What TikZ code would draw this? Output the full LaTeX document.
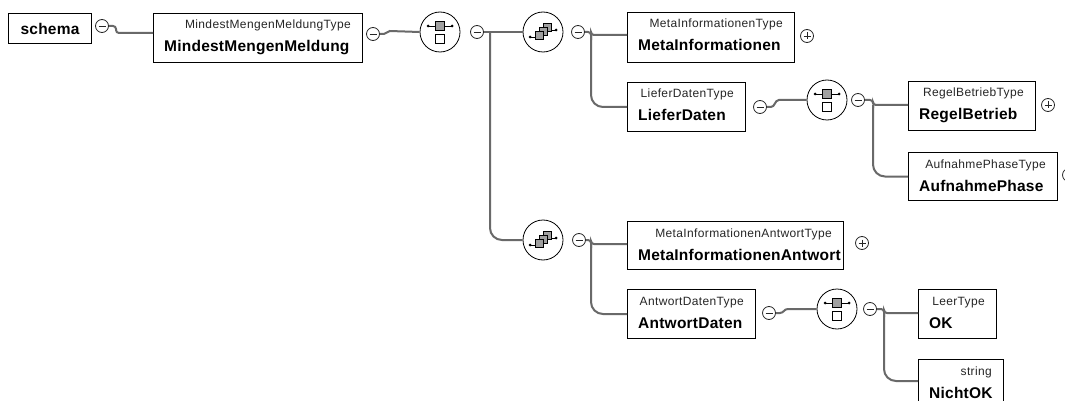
\documentclass[tikz,border=0pt]{standalone}
\usepackage{fontspec}
\setmainfont{Liberation Sans}
\newfontfamily\typefont[LetterSpace=3]{Liberation Sans}
\newfontfamily\namefont[LetterSpace=1.5]{Liberation Sans}
\usetikzlibrary{calc}
\definecolor{conngray}{RGB}{105,105,105}
\definecolor{iconfill}{RGB}{160,160,160}
\newcommand\xelem[7]{%
  \node[elbox, minimum width={(#4)-(#2)}, minimum height={(#5)-(#3)}, anchor=north west] (#1) at (#2,#3) {};
  \node[typelbl, anchor=base east] (#1-t) at ($(#1.north east)+(-12,16)$) {#6};
  \node[namelbl, anchor=base west] (#1-n) at ($(#1.north west)+(11,39)$) {#7};}
\newcommand\seqicon[1]{%
  \begin{scope}[shift={(#1.center)}]
    \draw[line width=0.8pt] (-12,-6) -- (12,-6);
    \fill (-12,-6) circle (1.5); \fill (12,-6) circle (1.5);
    \draw[fill=iconfill, line width=0.7pt] (-4.5,-10.5) rectangle (4.5,-1.5);
    \draw[fill=white, line width=0.7pt] (-4.5,2.5) rectangle (4.5,11.5);
  \end{scope}}
\newcommand\choiceicon[1]{%
  \begin{scope}[shift={(#1.center)}]
    \draw[line width=0.8pt] (-13,5) -- (-7.5,5); \fill (-13,5) circle (1.5);
    \draw[line width=0.8pt] (8,-2) -- (13,-2); \fill (13,-2) circle (1.5);
    \draw[fill=iconfill, line width=0.6pt] (0,-8.5) rectangle (8,-0.5);
    \draw[fill=iconfill, line width=0.6pt] (-4,-4.5) rectangle (4,3.5);
    \draw[fill=iconfill, line width=0.6pt] (-8,-0.5) rectangle (0,7.5);
  \end{scope}}
\begin{document}
\begin{tikzpicture}[x=1pt,y=-1pt,
  elbox/.style={rectangle, draw=black, line width=1pt, fill=white, inner sep=0pt},
  typelbl/.style={inner sep=0pt, text=black!85, font=\typefont\fontsize{12}{14}\selectfont},
  namelbl/.style={inner sep=0pt, text=black, font=\namefont\bfseries\fontsize{15.5}{18}\selectfont},
  conn/.style={draw=conngray, line width=2pt},
  minus/.style={circle, draw=black!85, line width=0.8pt, fill=white, minimum size=13pt, inner sep=0pt,
    path picture={\draw[line width=0.9pt, black!85] ([xshift=3pt]path picture bounding box.west) -- ([xshift=-3pt]path picture bounding box.east);}},
  plus/.style={circle, draw=black!85, line width=0.8pt, fill=white, minimum size=13pt, inner sep=0pt,
    path picture={\draw[line width=0.9pt, black!85] ([xshift=3pt]path picture bounding box.west) -- ([xshift=-3pt]path picture bounding box.east);
      \draw[line width=0.9pt, black!85] ([yshift=-3pt]path picture bounding box.north) -- ([yshift=3pt]path picture bounding box.south);}},
  comp/.style={circle, draw=black, line width=0.8pt, fill=white, minimum size=40pt, inner sep=0pt}]
\useasboundingbox (0,0) rectangle (1065,401);
\clip (0,0) rectangle (1065,401);
\fill[white] (0,0) rectangle (1065,401);

% element boxes
\node[elbox, minimum width=83, minimum height=30, anchor=north west, namelbl] (schema) at (8,13) {schema};
\xelem{mmm}{153}{13}{362}{62}{MindestMengenMeldungType}{MindestMengenMeldung}
\xelem{mi}{627}{12}{794}{62}{MetaInformationenType}{MetaInformationen}
\xelem{ld}{627}{82}{745}{131}{LieferDatenType}{LieferDaten}
\xelem{rb}{908}{81}{1035}{130}{RegelBetriebType}{RegelBetrieb}
\xelem{ap}{908}{152}{1057}{200}{AufnahmePhaseType}{AufnahmePhase}
\xelem{mia}{627}{221}{843}{269}{MetaInformationenAntwortType}{MetaInformationenAntwort}
\xelem{ad}{627}{289}{755}{338}{AntwortDatenType}{AntwortDaten}
\xelem{ok}{918}{289}{996}{338}{LeerType}{OK}
\xelem{nok}{918}{359}{1003}{409}{string}{NichtOK}

% compositors
\node[comp] (s1) at (440,32) {};
\node[comp] (c1) at (543,32) {};
\node[comp] (c2) at (543,240) {};
\node[comp] (s2) at (827,100) {};
\node[comp] (s3) at (837,309) {};
\seqicon{s1}
\choiceicon{c1}
\choiceicon{c2}
\seqicon{s2}
\seqicon{s3}

% expand / collapse buttons
\node[minus] (m0) at (102,26) {};
\node[minus] (m1) at (373,34) {};
\node[minus] (m2) at (477,32) {};
\node[minus] (m3) at (578,32) {};
\node[minus] (m4) at (760,107) {};
\node[minus] (m5) at (858,100) {};
\node[minus] (m6) at (579,240) {};
\node[minus] (m7) at (769,313) {};
\node[minus] (m8) at (870,309) {};
\node[plus] (p1) at (807,36) {};
\node[plus] (p2) at (1048,105) {};
\node[plus] (p3) at (1069,175) {};
\node[plus] (p4) at (862,243) {};

% junction points
\coordinate (j0) at (116,33);
\coordinate (j2) at (490,32);
\coordinate (j3) at (591,35);
\coordinate (j5) at (873,105);
\coordinate (j6) at (591,244);
\coordinate (j8) at (884,313);

% connectors
\draw[conn, rounded corners=3] (m0.east) -| (j0) -- (mmm.west |- j0);
\draw[conn] (m1.east) -- ++(4,0) .. controls +(3,0) and +(-3,0) .. ++(6,-3) -- (s1.west);
\draw[conn] (m2.east) -- (c1.west);
\draw[conn, rounded corners=12] (j2) |- (c2.west);
\draw[conn, rounded corners=3] (m3.east) -| (j3) -- (mi.west |- j3);
\draw[conn, rounded corners=12] (j3) |- (ld.west);
\draw[conn] (m4.east) -- ++(4,0) .. controls +(4,0) and +(-4,0) .. ++(8,-7) -- (s2.west);
\draw[conn, rounded corners=3] (m5.east) -| (j5) -- (rb.west |- j5);
\draw[conn, rounded corners=12] (j5) |- (ap.west);
\draw[conn, rounded corners=3] (m6.east) -| (j6) -- (mia.west |- j6);
\draw[conn, rounded corners=12] (j6) |- (ad.west);
\draw[conn] (m7.east) -- ++(4,0) .. controls +(4,0) and +(-4,0) .. ++(8,-4) -- (s3.west);
\draw[conn, rounded corners=3] (m8.east) -| (j8) -- (ok.west |- j8);
\draw[conn, rounded corners=12] (j8) |- (nok.west |- 0,381);
\end{tikzpicture}
\end{document}
